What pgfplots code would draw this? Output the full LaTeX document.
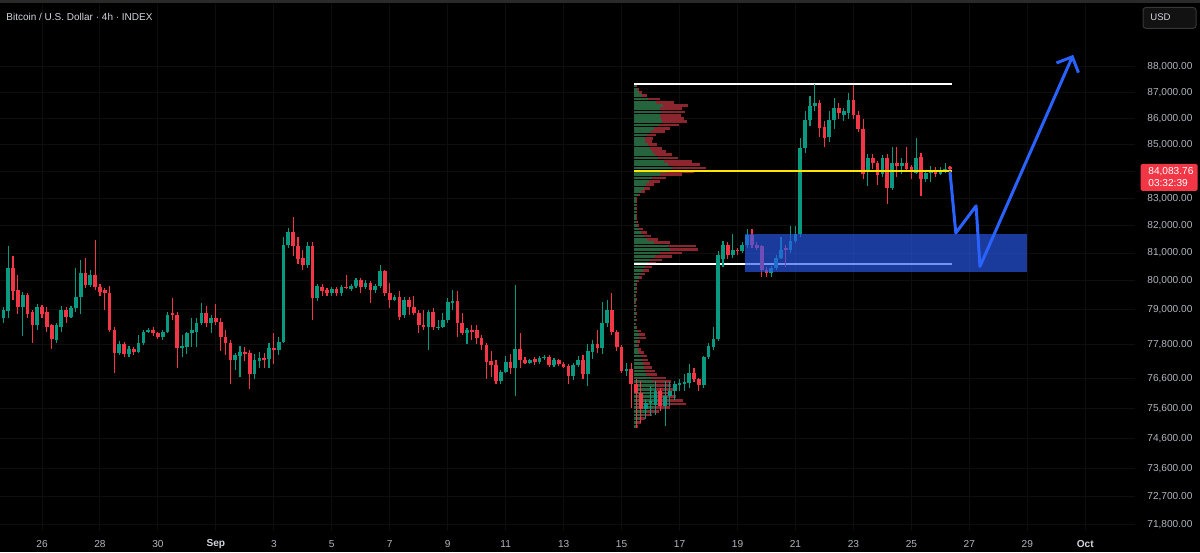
\documentclass[border=0pt]{standalone}
\usepackage{fontspec}
\setmainfont{Liberation Sans}
\usepackage{pgfplots}
\usepackage{pgfplotstable}
\pgfplotsset{compat=1.18}
\usetikzlibrary{arrows.meta}
\definecolor{upc}{RGB}{8,153,129}
\definecolor{dnc}{RGB}{242,54,69}
\definecolor{vup}{RGB}{38,100,62}
\definecolor{vdn}{RGB}{140,38,46}
\definecolor{gridc}{RGB}{14,14,14}
\definecolor{lab}{RGB}{178,181,190}
\definecolor{ttl}{RGB}{209,212,220}
\definecolor{blu}{RGB}{41,98,255}
\definecolor{rectc}{RGB}{41,90,240}
\definecolor{pocline}{RGB}{255,230,0}
\definecolor{topc}{RGB}{42,42,42}

\pgfplotstableread{
i O H L C
-9 79.08 79.15 78.62 78.72
-8 78.72 79.08 78.55 79.00
-7 78.94 81.24 78.72 80.48
-6 80.48 80.88 79.33 79.65
-5 79.69 80.23 78.86 79.08
-4 79.08 79.62 78.09 79.51
-3 79.51 79.58 78.72 78.86
-2 78.90 78.97 77.84 78.48
-1 78.44 79.19 78.30 79.08
0 79.08 79.15 78.69 78.86
1 78.90 79.08 78.23 78.41
2 78.44 78.51 77.63 77.98
3 77.95 78.55 77.84 78.44
4 78.41 79.12 78.20 79.00
5 79.00 79.08 78.55 78.76
6 78.76 79.12 78.72 79.04
7 79.04 80.48 78.90 79.44
8 79.44 80.77 78.86 80.30
9 80.30 80.84 79.76 79.87
10 79.87 80.41 79.80 80.23
11 80.23 81.46 79.69 79.80
12 79.80 79.90 79.50 79.62
13 79.69 79.76 78.97 79.58
14 79.58 79.83 78.23 78.30
15 78.30 78.37 76.80 77.49
16 77.49 77.91 77.42 77.81
17 77.81 77.88 77.35 77.46
18 77.46 77.74 77.35 77.63
19 77.63 77.70 77.42 77.53
20 77.53 78.12 77.49 77.84
21 77.84 78.30 77.77 78.20
22 78.20 78.34 78.16 78.27
23 78.27 78.37 78.09 78.16
24 78.16 78.23 77.98 78.05
25 78.05 78.27 77.95 78.20
26 78.20 78.90 78.16 78.80
27 78.87 79.40 78.62 78.80
28 78.80 78.90 76.97 77.66
29 77.66 78.12 77.35 77.74
30 77.70 78.20 77.45 78.16
31 78.16 78.72 77.70 78.27
32 78.23 78.72 77.70 78.55
33 78.55 79.22 78.48 78.87
34 78.87 79.12 78.37 78.55
35 78.55 78.80 78.16 78.69
36 78.69 79.19 78.44 78.58
37 78.58 78.69 77.56 78.05
38 78.05 78.30 77.42 77.84
39 77.84 77.95 76.43 77.25
40 77.25 77.49 76.90 77.42
41 77.38 77.74 76.66 77.53
42 77.53 77.70 77.20 77.46
43 77.49 77.60 76.26 76.77
44 76.77 77.46 76.60 77.25
45 77.22 77.53 76.97 77.32
46 77.32 77.50 76.97 77.25
47 77.29 77.84 76.97 77.66
48 77.66 78.16 77.10 77.60
49 77.60 78.05 77.42 77.88
50 77.88 81.57 77.84 81.31
51 81.31 81.90 81.20 81.75
52 81.75 82.30 80.90 81.24
53 81.24 81.60 80.60 80.80
54 80.84 81.10 80.40 80.59
55 80.59 81.40 80.48 81.24
56 81.24 81.40 78.62 79.40
57 79.40 79.90 79.30 79.83
58 79.80 79.90 79.50 79.65
59 79.69 79.76 79.50 79.58
60 79.58 79.80 79.50 79.72
61 79.72 79.80 79.50 79.58
62 79.58 79.87 79.50 79.80
63 79.80 80.20 79.72 79.76
64 79.72 79.90 79.65 79.83
65 79.83 80.12 79.76 80.05
66 80.02 80.12 79.58 79.80
67 79.80 80.05 79.72 79.94
68 79.94 80.00 79.22 79.69
69 79.69 79.90 79.60 79.83
70 79.83 80.59 79.76 80.34
71 80.34 80.40 79.50 79.58
72 79.58 79.94 79.04 79.36
73 79.36 79.51 79.30 79.44
74 79.44 79.65 78.65 78.76
75 78.80 79.44 78.72 79.36
76 79.36 79.44 78.80 79.08
77 79.08 79.50 78.80 78.87
78 78.87 78.97 78.16 78.44
79 78.44 78.97 78.30 78.37
80 78.37 79.00 77.60 78.90
81 78.90 79.04 78.27 78.37
82 78.37 78.65 78.30 78.41
83 78.41 78.87 78.34 78.62
84 78.62 79.40 78.55 79.26
85 79.22 79.69 79.00 79.30
86 79.30 79.65 78.05 78.55
87 78.55 78.87 78.10 78.16
88 78.16 78.34 77.80 78.27
89 78.27 78.48 77.95 78.23
90 78.27 78.48 77.80 78.00
91 78.02 78.10 77.60 77.77
92 77.77 77.84 76.60 77.18
93 77.22 77.56 76.66 77.08
94 77.08 77.25 76.43 76.53
95 76.53 76.90 76.43 76.84
96 76.84 77.38 76.80 77.18
97 77.18 77.46 76.77 76.97
98 76.97 79.87 76.03 77.63
99 77.63 78.16 76.97 77.25
100 77.25 77.35 77.10 77.15
101 77.15 77.30 77.10 77.25
102 77.28 77.35 77.08 77.18
103 77.18 77.38 77.12 77.32
104 77.32 77.42 77.25 77.36
105 77.35 77.42 77.00 77.08
106 77.08 77.32 77.00 77.25
107 77.25 77.30 77.05 77.12
108 77.12 77.18 76.95 77.00
109 77.04 77.10 76.43 76.70
110 76.70 77.15 76.55 77.08
111 77.08 77.38 77.00 77.25
112 77.25 77.42 76.60 76.77
113 76.77 77.80 76.36 77.56
114 77.53 77.95 77.30 77.81
115 77.81 78.30 77.50 77.66
116 77.66 79.26 77.45 78.55
117 78.55 79.33 78.40 78.97
118 78.97 79.58 78.10 78.20
119 78.20 78.30 77.56 77.70
120 77.70 77.77 76.80 76.87
121 76.87 77.15 76.70 76.94
122 76.94 77.15 75.60 76.43
123 76.43 76.60 74.95 76.12
124 76.12 76.53 75.10 75.58
125 75.58 75.92 75.24 75.78
126 75.78 76.36 75.35 75.83
127 75.72 76.53 75.40 76.19
128 76.19 76.30 75.50 75.68
129 75.68 76.53 75.00 76.02
130 76.02 76.50 75.68 76.19
131 76.19 76.53 75.90 76.43
132 76.40 76.60 76.20 76.47
133 76.43 76.77 76.20 76.50
134 76.47 77.10 76.30 76.80
135 76.80 76.97 76.50 76.60
136 76.60 76.65 76.20 76.40
137 76.40 77.40 76.30 77.35
138 77.35 77.84 77.30 77.74
139 77.70 78.37 77.60 77.98
140 77.98 81.06 77.90 80.95
141 80.80 81.42 80.50 81.28
142 81.28 81.40 80.80 80.95
143 80.95 81.68 80.84 81.13
144 81.13 81.20 80.95 81.06
145 81.06 81.40 81.00 81.31
146 81.28 81.86 81.20 81.64
147 81.64 81.86 81.20 81.31
148 81.31 81.40 81.10 81.20
149 81.24 81.30 80.16 80.41
150 80.41 80.50 80.15 80.30
151 80.30 80.55 80.15 80.48
152 80.48 80.95 80.40 80.84
153 80.84 81.60 80.80 81.13
154 81.20 81.30 80.50 81.10
155 81.13 82.00 81.00 81.42
156 81.42 82.00 81.35 81.71
157 81.71 85.25 81.60 84.86
158 84.86 86.30 84.70 85.94
159 85.94 86.86 85.70 86.48
160 86.48 87.35 86.30 86.60
161 86.60 86.70 85.30 85.63
162 85.67 85.90 84.90 85.25
163 85.30 86.30 85.10 85.94
164 85.94 86.80 85.60 86.40
165 86.40 86.60 86.00 86.20
166 86.15 86.40 85.90 86.30
167 86.20 87.00 86.00 86.70
168 86.70 87.30 86.00 86.15
169 86.15 86.30 85.50 85.60
170 85.60 86.00 83.70 83.90
171 84.00 84.65 83.45 84.50
172 84.50 84.65 84.10 84.30
173 84.30 84.40 83.50 83.85
174 83.90 84.60 83.80 84.50
175 84.50 84.65 82.80 83.40
176 83.40 84.90 83.30 84.30
177 84.30 84.90 83.80 84.20
178 84.20 84.50 83.90 84.30
179 84.30 84.90 84.00 84.10
180 84.15 84.25 83.70 84.00
181 83.95 85.25 83.90 84.50
182 84.55 84.70 83.10 83.70
183 83.70 84.05 83.60 83.95
184 83.95 84.20 83.60 84.00
185 84.04 84.15 83.80 83.90
186 83.90 84.15 83.85 84.05
187 84.00 84.30 83.95 84.10
188 84.15 84.20 84.00 84.08
}\candles

\pgfplotstableread{
p t g
75.000 4 2
75.125 7 4
75.250 11 6
75.375 18 9
75.500 25 13
75.625 36 19
75.750 52 27
75.875 49 25
76.000 42 22
76.125 38 20
76.250 39 21
76.375 37 20
76.500 37 19
76.625 32 17
76.750 23 12
76.875 21 11
77.000 18 10
77.125 16 9
77.250 14 8
77.375 13 7
77.500 10 5
77.625 7 4
77.750 5 3
77.875 6 3
78.000 12 5
78.125 11 5
78.250 7 4
78.375 3 2
78.500 2 1
78.625 3 2
78.750 2 1
78.875 3 2
79.000 2 1
79.125 3 2
79.250 2 1
79.375 3 2
79.500 2 1
79.625 3 2
79.750 3 2
79.875 3 2
80.000 5 3
80.125 8 5
80.250 11 7
80.375 15 9
80.500 18 11
80.625 22 13
80.750 28 16
80.875 38 21
81.000 48 26
81.125 64 36
81.250 62 34
81.375 36 20
81.500 24 13
81.625 17 10
81.750 13 7
81.875 9 5
82.000 5 3
82.125 4 2
82.250 3 2
82.375 3 2
82.500 3 2
82.625 3 2
82.750 3 2
82.875 3 2
83.000 3 2
83.125 6 4
83.250 11 7
83.375 16 10
83.500 20 12
83.625 26 15
83.750 32 18
83.875 48 26
84.000 60 32
84.125 72 38
84.250 66 34
84.375 58 30
84.500 44 24
84.625 38 21
84.750 32 18
84.875 28 16
85.000 23 14
85.125 18 11
85.250 19 11
85.375 22 13
85.500 31 17
85.625 36 20
85.750 45 25
85.875 53 28
86.000 50 27
86.125 47 26
86.250 51 27
86.375 48 26
86.500 54 29
86.625 40 22
86.750 26 14
86.875 13 8
87.000 8 5
87.125 5 3
87.250 3 2
}\profile

\begin{document}
\begin{tikzpicture}
\useasboundingbox (0,0) rectangle (600pt,276pt);
\fill[black] (0,0) rectangle (600pt,276pt);
\fill[topc] (0,274.6pt) rectangle (600pt,276pt);
\begin{axis}[
  at={(0pt,10.5pt)}, anchor=south west,
  scale only axis, width=567.5pt, height=263.5pt,
  xmin=-8.70, xmax=226.3,
  ymode=log, ymin=71.59, ymax=90.50,
  axis line style={draw=none},
  major tick length=0pt,
  grid=major, grid style={draw=gridc, line width=0.5pt},
  xtick={0,12,24,36,48,60,72,84,96,108,120,132,144,156,168,180,192,204,216},
  xticklabels={26,28,30,{\color{ttl}\bfseries Sep},3,5,7,9,11,13,15,17,19,21,23,25,27,29,{\color{ttl}\bfseries Oct}},
  ytick={71.8,72.7,73.6,74.6,75.6,76.6,77.8,79,80,81,82,83,85,86,87,88},
  yticklabels={{71,800.00},{72,700.00},{73,600.00},{74,600.00},{75,600.00},{76,600.00},{77,800.00},{79,000.00},{80,000.00},{81,000.00},{82,000.00},{83,000.00},{85,000.00},{86,000.00},{87,000.00},{88,000.00}},
  extra y ticks={84}, extra y tick labels={},
  yticklabel pos=right,
  tick label style={font=\fontsize{5.06}{6}\selectfont, text=lab},
  yticklabel style={anchor=west, inner sep=0pt, xshift=6pt},
  xticklabel style={anchor=center, inner sep=0pt, yshift=-6.5pt},
]
% volume profile (total = red, up part = green)
\addplot[draw=none, mark=none, forget plot,
  error bars/.cd, x dir=plus, x explicit,
  error bar style={draw=vdn, line width=1.35pt, solid}, error mark=none]
  table[x expr=122.57, y=p, x error expr=\thisrow{t}*0.207] {\profile};
\addplot[draw=none, mark=none, forget plot,
  error bars/.cd, x dir=plus, x explicit,
  error bar style={draw=vup, line width=1.35pt, solid}, error mark=none]
  table[x expr=122.57, y=p, x error expr=\thisrow{g}*0.207] {\profile};
% range lines
\addplot[draw=white, line width=1pt, forget plot] coordinates {(122.57,87.32) (188.4,87.32)};
\addplot[draw=white, line width=1pt, forget plot] coordinates {(122.57,80.62) (188.4,80.62)};
% wicks
\addplot[draw=none, mark=none, forget plot,
  restrict expr to domain={\thisrow{C}-\thisrow{O}}{0:100},
  error bars/.cd, y dir=plus, y explicit,
  error bar style={draw=upc, line width=0.55pt, solid}, error mark=none]
  table[x=i, y=L, y error expr=\thisrow{H}-\thisrow{L}] {\candles};
\addplot[draw=none, mark=none, forget plot,
  restrict expr to domain={\thisrow{C}-\thisrow{O}}{-100:-0.0001},
  error bars/.cd, y dir=plus, y explicit,
  error bar style={draw=dnc, line width=0.55pt, solid}, error mark=none]
  table[x=i, y=L, y error expr=\thisrow{H}-\thisrow{L}] {\candles};
% bodies
\addplot[draw=none, mark=none, forget plot,
  restrict expr to domain={\thisrow{C}-\thisrow{O}}{0:100},
  error bars/.cd, y dir=plus, y explicit,
  error bar style={draw=upc, line width=1.85pt, solid}, error mark=none]
  table[x=i, y=O, y error expr=\thisrow{C}-\thisrow{O}] {\candles};
\addplot[draw=none, mark=none, forget plot,
  restrict expr to domain={\thisrow{C}-\thisrow{O}}{-100:-0.0001},
  error bars/.cd, y dir=plus, y explicit,
  error bar style={draw=dnc, line width=1.85pt, solid}, error mark=none]
  table[x=i, y=C, y error expr=\thisrow{O}-\thisrow{C}] {\candles};
% point of control line
\addplot[draw=pocline, mark=none, line width=1pt, forget plot] coordinates {(122.57,84.0) (188.4,84.0)};
% zone rectangle
\addplot[draw=none, fill=rectc, fill opacity=0.65, forget plot]
  coordinates {(145.55,80.31) (203.9,80.31) (203.9,81.70) (145.55,81.70)} -- cycle;
% projection path
\addplot[draw=blu, line width=1.5pt, line join=round, line cap=round,
  -{Straight Barb[length=6pt,width=12pt,line width=1.5pt]}, forget plot]
  coordinates {(188.0,83.97) (189.2,81.73) (193.4,82.72) (194.2,80.52) (213.5,88.47)};
\end{axis}
% title
\node[anchor=west, inner sep=0pt, text=ttl, font=\fontsize{5}{6}\selectfont] at (3pt,267.6pt) {Bitcoin / U.S. Dollar · 4h · INDEX};
% USD box
\draw[draw={rgb,255:red,55;green,55;blue,55}, fill={rgb,255:red,18;green,18;blue,18}, line width=0.5pt, rounded corners=1.5pt] (571.5pt,261.8pt) rectangle (598pt,272.3pt);
\node[anchor=west, inner sep=0pt, text=ttl, font=\fontsize{4.8}{6}\selectfont] at (575pt,267.2pt) {USD};
% price tag
\fill[dnc, rounded corners=0.8pt] (570.3pt,180.6pt) rectangle (598.8pt,194pt);
\node[anchor=west, inner sep=0pt, text=white, font=\fontsize{5.06}{6}\selectfont] at (574pt,190.1pt) {84,083.76};
\node[anchor=west, inner sep=0pt, text=white, font=\fontsize{5.06}{6}\selectfont] at (574pt,184.6pt) {03:32:39};
\end{tikzpicture}
\end{document}
